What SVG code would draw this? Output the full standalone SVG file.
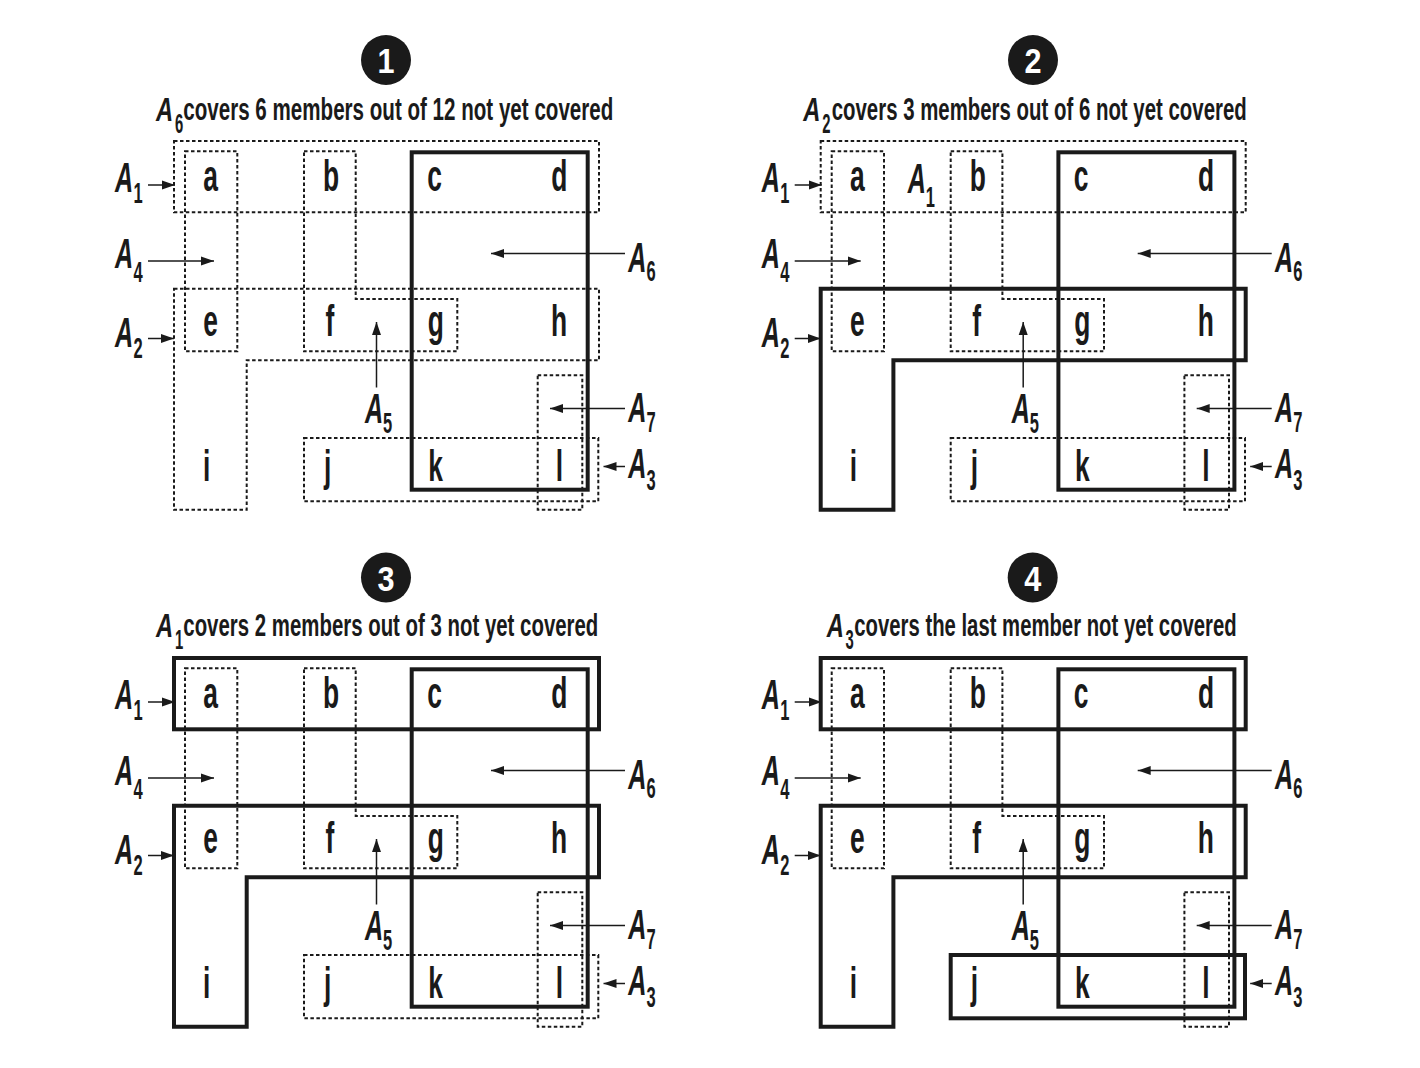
<svg xmlns="http://www.w3.org/2000/svg" width="1420" height="1068" viewBox="0 0 1420 1068">
<style>
.sol{fill:none;stroke:#1a1a1a;stroke-width:4}
.dot{fill:none;stroke:#1a1a1a;stroke-width:2;stroke-dasharray:3.5 2.5}
.arr{stroke:#1a1a1a;stroke-width:1.5;fill:none;marker-end:url(#ah)}
text{font-family:"Liberation Sans",Arial,sans-serif;fill:#1a1a1a;font-weight:bold}
.lt{font-size:44px;text-anchor:middle}
.la{font-size:42px;font-style:italic}
.ls{font-size:30px}
.ta{font-size:33px;font-style:italic}
.ts{font-size:27px}
.tt{font-size:31px}
.num{font-size:36px;fill:#fff;text-anchor:middle}
</style>
<defs>
<marker id="ah" markerUnits="userSpaceOnUse" markerWidth="13" markerHeight="10" refX="13" refY="5" orient="auto">
<path d="M0,0.5 L13,5 L0,9.5 z" fill="#1a1a1a"/>
</marker>
<g id="letters">
<text class="lt" transform="matrix(0.6 0 0 1 210.7 191.3)">a</text>
<text class="lt" transform="matrix(0.6 0 0 1 331 191.3)">b</text>
<text class="lt" transform="matrix(0.6 0 0 1 434.5 191.3)">c</text>
<text class="lt" transform="matrix(0.6 0 0 1 559.3 191.3)">d</text>
<text class="lt" transform="matrix(0.6 0 0 1 210.7 336.3)">e</text>
<text class="lt" transform="matrix(0.6 0 0 1 330 336.3)">f</text>
<text class="lt" transform="matrix(0.6 0 0 1 435.7 336.3)">g</text>
<text class="lt" transform="matrix(0.6 0 0 1 559 336.3)">h</text>
<text class="lt" transform="matrix(0.6 0 0 1 206.7 481.3)">i</text>
<text class="lt" transform="matrix(0.6 0 0 1 327.7 481.3)">j</text>
<text class="lt" transform="matrix(0.6 0 0 1 435.7 481.3)">k</text>
<text class="lt" transform="matrix(0.6 0 0 1 559.3 481.3)">l</text>
</g>
<g id="labels">
<text class="la" transform="matrix(0.6 0 0 1 115 191.7)">A</text>
<text class="ls" transform="matrix(0.55 0 0 1 133.5 203)">1</text>
<text class="la" transform="matrix(0.6 0 0 1 115 268.3)">A</text>
<text class="ls" transform="matrix(0.55 0 0 1 133.5 281.5)">4</text>
<text class="la" transform="matrix(0.6 0 0 1 115 346.7)">A</text>
<text class="ls" transform="matrix(0.55 0 0 1 133.5 358)">2</text>
<text class="la" transform="matrix(0.6 0 0 1 628.3 271.7)">A</text>
<text class="ls" transform="matrix(0.55 0 0 1 646.5 281)">6</text>
<text class="la" transform="matrix(0.6 0 0 1 628.3 421.7)">A</text>
<text class="ls" transform="matrix(0.55 0 0 1 646.5 432)">7</text>
<text class="la" transform="matrix(0.6 0 0 1 628.3 478.3)">A</text>
<text class="ls" transform="matrix(0.55 0 0 1 646.5 489.5)">3</text>
<text class="la" transform="matrix(0.6 0 0 1 365 422.7)">A</text>
<text class="ls" transform="matrix(0.55 0 0 1 383 433.3)">5</text>
</g>
<g id="arrows">
<line class="arr" x1="148" y1="185" x2="175" y2="185"/>
<line class="arr" x1="148" y1="261" x2="214" y2="261"/>
<line class="arr" x1="148" y1="338.5" x2="174" y2="338.5"/>
<line class="arr" x1="625" y1="253.5" x2="491" y2="253.5"/>
<line class="arr" x1="625" y1="408.5" x2="550" y2="408.5"/>
<line class="arr" x1="625" y1="466.5" x2="603.5" y2="466.5"/>
<line class="arr" x1="376.5" y1="387.5" x2="376.5" y2="322"/>
</g>
<rect id="sA1" x="174" y="141" width="425" height="71.3"/>
<rect id="sA4" x="185" y="151.3" width="52.3" height="200"/>
<path id="sA5" d="M304,151.3 H355.7 V299 H457.3 V351.3 H304 Z"/>
<rect id="sA6" x="411.7" y="152.3" width="176" height="337.4"/>
<path id="sA2" d="M174,288.7 H599 V360.3 H246.7 V509.7 H174 Z"/>
<rect id="sA7" x="537.7" y="375.3" width="44.6" height="134.4"/>
<rect id="sA3" x="304" y="438" width="294.3" height="63.3"/>
</defs>

<g id="panel1">
<circle cx="386" cy="60" r="25" fill="#1a1a1a"/>
<text class="num" transform="matrix(0.85 0 0 1 386 73)">1</text>
<text class="ta" transform="matrix(0.72 0 0 1 156 121)">A</text>
<text class="ts" transform="matrix(0.55 0 0 1 175 133)">6</text>
<text class="tt" transform="matrix(0.7 0 0 1 183.3 120)" textLength="614.3" lengthAdjust="spacingAndGlyphs">covers 6 members out of 12 not yet covered</text>
<g id="p1-sets">
<use href="#sA1" class="dot"/>
<use href="#sA4" class="dot"/>
<use href="#sA5" class="dot"/>
<use href="#sA2" class="dot"/>
<use href="#sA7" class="dot"/>
<use href="#sA3" class="dot"/>
<use href="#sA6" class="sol"/>
</g>
<use href="#letters"/>
<use href="#labels"/>
<g id="p1-connectors"><use href="#arrows"/></g>
</g>

<g id="panel2" transform="translate(646.7 0)">
<circle cx="386.3" cy="60" r="25" fill="#1a1a1a"/>
<text class="num" transform="matrix(0.85 0 0 1 386.3 73)">2</text>
<text class="ta" transform="matrix(0.72 0 0 1 156.6 121)">A</text>
<text class="ts" transform="matrix(0.55 0 0 1 175.6 133)">2</text>
<text class="tt" transform="matrix(0.7 0 0 1 185 120)" textLength="592.9" lengthAdjust="spacingAndGlyphs">covers 3 members out of 6 not yet covered</text>
<g id="p2-sets">
<use href="#sA1" class="dot"/>
<use href="#sA4" class="dot"/>
<use href="#sA5" class="dot"/>
<use href="#sA7" class="dot"/>
<use href="#sA3" class="dot"/>
<use href="#sA6" class="sol"/>
<use href="#sA2" class="sol"/>
</g>
<use href="#letters"/>
<use href="#labels"/>
<text class="la" transform="matrix(0.6 0 0 1 261 193.3)">A</text>
<text class="ls" transform="matrix(0.55 0 0 1 279 206.7)">1</text>
<g id="p2-connectors"><use href="#arrows"/></g>
</g>

<g id="panel3" transform="translate(0 517)">
<circle cx="386" cy="60.5" r="25" fill="#1a1a1a"/>
<text class="num" transform="matrix(0.85 0 0 1 386 73.5)">3</text>
<text class="ta" transform="matrix(0.72 0 0 1 156 120)">A</text>
<text class="ts" transform="matrix(0.55 0 0 1 175 132)">1</text>
<text class="tt" transform="matrix(0.7 0 0 1 183.3 119)" textLength="592.9" lengthAdjust="spacingAndGlyphs">covers 2 members out of 3 not yet covered</text>
<g id="p3-sets">
<use href="#sA4" class="dot"/>
<use href="#sA5" class="dot"/>
<use href="#sA7" class="dot"/>
<use href="#sA3" class="dot"/>
<use href="#sA6" class="sol"/>
<use href="#sA2" class="sol"/>
<use href="#sA1" class="sol"/>
</g>
<use href="#letters"/>
<use href="#labels"/>
<g id="p3-connectors"><use href="#arrows"/></g>
</g>

<g id="panel4" transform="translate(646.7 517)">
<circle cx="386" cy="60.5" r="25" fill="#1a1a1a"/>
<text class="num" transform="matrix(0.85 0 0 1 386 73.5)">4</text>
<text class="ta" transform="matrix(0.72 0 0 1 180 120)">A</text>
<text class="ts" transform="matrix(0.55 0 0 1 198.8 132)">3</text>
<text class="tt" transform="matrix(0.7 0 0 1 207.6 119)" textLength="546.3" lengthAdjust="spacingAndGlyphs">covers the last member not yet covered</text>
<g id="p4-sets">
<use href="#sA4" class="dot"/>
<use href="#sA5" class="dot"/>
<use href="#sA7" class="dot"/>
<use href="#sA6" class="sol"/>
<use href="#sA2" class="sol"/>
<use href="#sA1" class="sol"/>
<use href="#sA3" class="sol"/>
</g>
<use href="#letters"/>
<use href="#labels"/>
<g id="p4-connectors"><use href="#arrows"/></g>
</g>
</svg>
